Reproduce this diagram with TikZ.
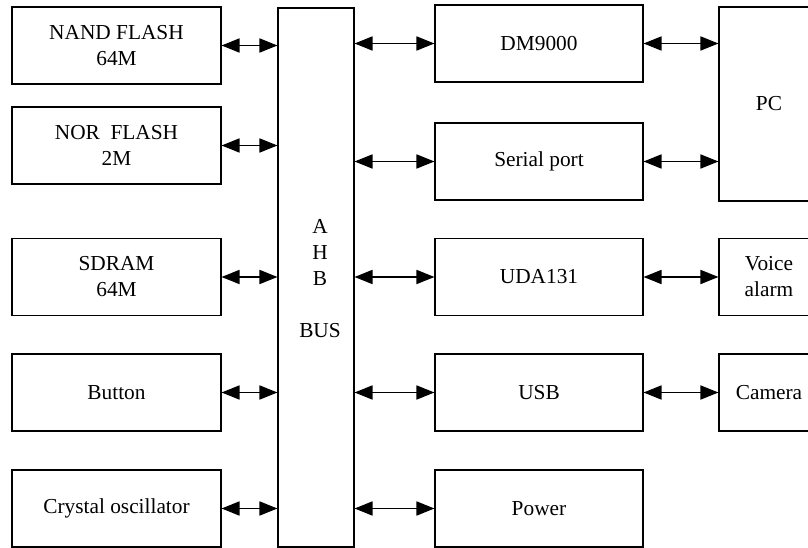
\documentclass[tikz,border=0pt]{standalone}
\usepackage{fontspec}
\setmainfont{Liberation Serif}
\usepackage{tikz}
\usetikzlibrary{arrows.meta,calc}

\tikzset{
  blk/.style={draw,line width=0.8pt,align=center,inner sep=0pt,
    font=\fontsize{16}{19.5}\selectfont},
  lbox/.style={blk,minimum width=156.75pt,minimum height=57.75pt},
  mbox/.style={blk,minimum width=156pt,minimum height=57.75pt},
  rbox/.style={blk,minimum width=75pt,minimum height=57.75pt},
  conn/.style={line width=1.3pt,{Triangle[length=13.5pt,width=10.5pt]}-{Triangle[length=13.5pt,width=10.5pt]}}
}

\begin{document}
\begin{tikzpicture}[x=0.75pt,y=0.75pt,yscale=-1,xscale=1]
            \useasboundingbox (0,0) rectangle (808,548);
            \clip (0,0) rectangle (808,548);

            %Shape: Bus
            \node [blk,minimum width=57pt,minimum height=404.25pt] (bus) at (316,277.5) {};
            % Text Node
            \node [blk,draw=none] (bustext) at (320,279) {A\\H\\B\\\mbox{}\\BUS};

            %Shape: Left column
            \node [lbox] (nand) at (116.5,45.5) {NAND FLASH\\64M};
            \node [lbox] (nor) at (116.5,145.5) {NOR\ \ FLASH\\2M};
            \node [lbox] (sdram) at (116.5,277) {SDRAM\\64M};
            \node [lbox] (button) at (116.5,392.5) {Button};
            \node [lbox] (crystal) at (116.5,508.5) {Crystal oscillator};

            %Shape: Middle column
            \node [mbox] (dm) at (539,43.5) {DM9000};
            \node [mbox] (serial) at (539,161.5) {Serial port};
            \node [mbox] (uda) at (539,277) {UDA131};
            \node [mbox] (usb) at (539,392.5) {USB};
            \node [mbox] (power) at (539,508.5) {Power};

            %Shape: Right column
            \node [rbox,minimum height=145.5pt] (pc) at (769,104) {PC};
            \node [rbox] (voice) at (769,277) {Voice\\alarm};
            \node [rbox] (camera) at (769,392.5) {Camera};

            % Arrows to the bus
            \foreach \n in {nand,nor,sdram,button,crystal}
              \draw [conn] (\n.east) -- (\n.east -| bus.west);
            \foreach \n in {dm,serial,uda,usb,power}
              \draw [conn] (\n.west -| bus.east) -- (\n.west);

            % Arrows to the outside
            \draw [conn] (dm.east) -- (dm.east -| pc.west);
            \draw [conn] (serial.east) -- (serial.east -| pc.west);
            \draw [conn] (uda.east) -- (voice.west);
            \draw [conn] (usb.east) -- (camera.west);
\end{tikzpicture}
\end{document}
